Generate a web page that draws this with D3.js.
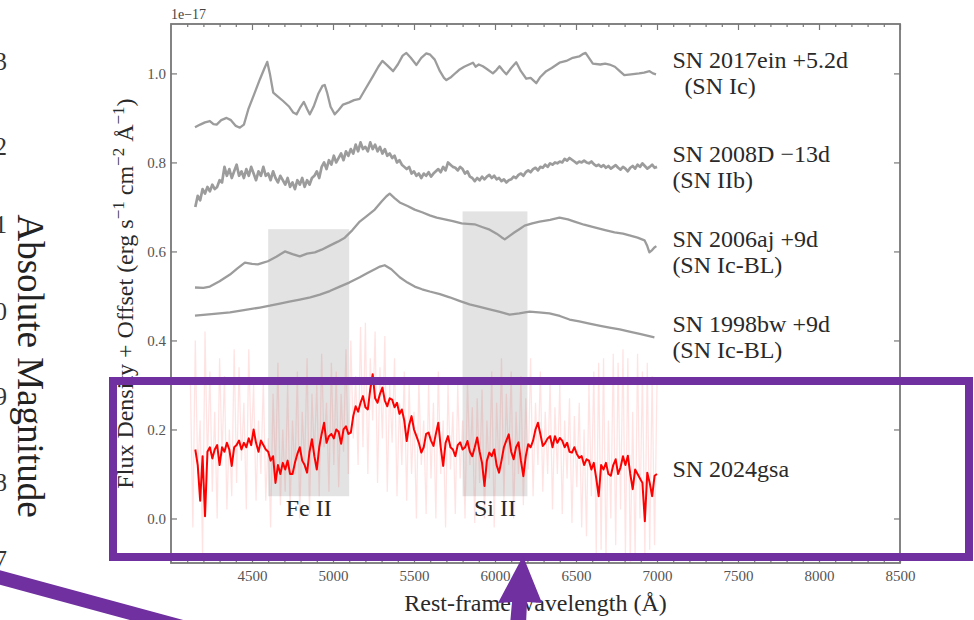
<!DOCTYPE html>
<html>
<head>
<meta charset="utf-8">
<script src="https://cdn.jsdelivr.net/npm/d3@7"></script>
<style>
  body { margin: 0; background: #fff; }
  svg { display: block; }
  text { font-family: "Liberation Serif", "Times New Roman", serif; }
</style>
</head>
<body>
<div id="chart"></div>
<script>
// ---- values (flux in units of 1e-17, offset applied) ----

var xTickValues = [4500, 5000, 5500, 6000, 6500, 7000, 7500, 8000, 8500];
var yTickValues = [0.0, 0.2, 0.4, 0.6, 0.8, 1.0];

var spectrumLabels = ["SN 2017ein +5.2d", "SN 2008D \u221213d", "SN 2006aj +9d", "SN 1998bw +9d", "SN 2024gsa"];
var spectrumTypes = ["(SN Ic)", "(SN IIb)", "(SN Ic-BL)", "(SN Ic-BL)", ""];

var regionNames = ["Fe II", "Si II"];
var regionStart = [4600, 5800];
var regionEnd = [5100, 6200];
var regionBottom = [0.05, 0.05];
var regionTop = [0.65, 0.69];

// SN 2017ein
var ein2017Wave = [4148, 4180, 4210, 4240, 4262, 4282, 4310, 4343, 4370, 4400, 4425, 4450, 4477, 4510, 4549, 4575, 4594, 4610, 4631, 4660,
  4692, 4730, 4755, 4775, 4800, 4820, 4840, 4857, 4880, 4910, 4935, 4949, 4965, 4985, 5011, 5035, 5062, 5100, 5130, 5165,
  5200, 5247, 5280, 5305, 5335, 5371, 5400, 5430, 5453, 5480, 5515, 5545, 5576, 5600, 5628, 5660, 5685, 5700, 5730, 5760,
  5782, 5810, 5840, 5864, 5880, 5900, 5925, 5950, 5987, 6010, 6028, 6050, 6070, 6100, 6131, 6160, 6193, 6220, 6255, 6280,
  6316, 6350, 6398, 6440, 6480, 6520, 6545, 6559, 6580, 6604, 6650, 6680, 6707, 6740, 6770, 6798, 6840, 6890, 6920, 6954,
  6975, 6994];
var ein2017Flux = [0.879, 0.885, 0.890, 0.893, 0.886, 0.885, 0.895, 0.900, 0.895, 0.882, 0.878, 0.885, 0.919, 0.950, 0.987, 1.010, 1.026, 1.000, 0.957, 0.948,
  0.938, 0.925, 0.912, 0.908, 0.925, 0.936, 0.920, 0.908, 0.925, 0.955, 0.972, 0.974, 0.955, 0.925, 0.908, 0.918, 0.930, 0.935, 0.940, 0.943,
  0.965, 0.994, 1.015, 1.028, 1.018, 1.005, 1.020, 1.040, 1.046, 1.035, 1.019, 1.035, 1.045, 1.042, 1.031, 1.005, 0.990, 0.985, 0.992, 1.002,
  1.009, 1.015, 1.020, 1.024, 1.015, 1.020, 1.016, 1.010, 1.000, 1.008, 1.016, 1.006, 0.998, 1.012, 1.025, 1.005, 0.988, 0.990, 0.978, 0.992,
  1.005, 1.012, 1.024, 1.028, 1.035, 1.038, 1.044, 1.046, 1.035, 1.022, 1.020, 1.022, 1.020, 1.015, 1.005, 0.996, 0.998, 1.000, 1.002, 1.005,
  1.000, 0.998];

// SN 2006aj
var sn2006ajWave = [4148, 4200, 4240, 4300, 4364, 4410, 4456, 4500, 4536, 4570, 4598, 4650, 4703, 4750, 4795, 4840, 4888, 4930, 4980, 5030,
  5073, 5120, 5165, 5210, 5258, 5300, 5330, 5350, 5380, 5412, 5460, 5504, 5550, 5597, 5640, 5690, 5740, 5794, 5830, 5874,
  5920, 5967, 6010, 6040, 6060, 6090, 6121, 6150, 6183, 6230, 6275, 6340, 6398, 6450, 6491, 6550, 6614, 6680, 6738, 6790,
  6830, 6880, 6923, 6940, 6953, 6970, 6984, 6996];
var sn2006ajFlux = [0.519, 0.518, 0.521, 0.533, 0.548, 0.562, 0.575, 0.572, 0.571, 0.575, 0.578, 0.588, 0.600, 0.594, 0.589, 0.595, 0.598, 0.604, 0.613, 0.622,
  0.631, 0.648, 0.667, 0.680, 0.694, 0.712, 0.724, 0.730, 0.720, 0.710, 0.702, 0.694, 0.688, 0.681, 0.676, 0.672, 0.668, 0.663, 0.662, 0.661,
  0.655, 0.649, 0.640, 0.632, 0.627, 0.635, 0.643, 0.650, 0.658, 0.663, 0.667, 0.671, 0.676, 0.672, 0.667, 0.660, 0.654, 0.648, 0.643, 0.640,
  0.636, 0.631, 0.625, 0.612, 0.598, 0.603, 0.609, 0.612];

// SN 1998bw
var sn1998bwWave = [4148, 4250, 4364, 4450, 4549, 4610, 4672, 4730, 4795, 4860, 4919, 4980, 5042, 5100, 5165, 5210, 5258, 5290, 5319, 5360,
  5412, 5460, 5504, 5550, 5597, 5660, 5720, 5780, 5843, 5900, 5967, 6030, 6090, 6150, 6213, 6270, 6336, 6400, 6460, 6520,
  6583, 6650, 6707, 6770, 6830, 6900, 6984];
var sn1998bwFlux = [0.456, 0.459, 0.463, 0.468, 0.474, 0.478, 0.483, 0.487, 0.492, 0.497, 0.503, 0.511, 0.521, 0.530, 0.542, 0.551, 0.560, 0.566, 0.569, 0.560,
  0.542, 0.530, 0.521, 0.515, 0.510, 0.504, 0.497, 0.489, 0.481, 0.476, 0.470, 0.464, 0.458, 0.461, 0.465, 0.463, 0.461, 0.455, 0.447, 0.443,
  0.438, 0.433, 0.429, 0.425, 0.420, 0.414, 0.407];

// SN 2008D and SN 2024gsa are sampled every 15 A from 4150 A to 7000 A
var noisyWave = d3.range(4150, 7001, 15);
var sn2008dFlux = [
  0.700, 0.725, 0.715, 0.740, 0.730, 0.745, 0.735, 0.750, 0.740, 0.745,
  0.760, 0.755, 0.790, 0.770, 0.785, 0.765, 0.780, 0.795, 0.770, 0.780,
  0.765, 0.785, 0.770, 0.790, 0.775, 0.760, 0.780, 0.770, 0.790, 0.770,
  0.775, 0.760, 0.780, 0.765, 0.755, 0.770, 0.760, 0.750, 0.765, 0.745,
  0.755, 0.740, 0.760, 0.750, 0.765, 0.745, 0.760, 0.750, 0.765, 0.770,
  0.780, 0.765, 0.790, 0.800, 0.785, 0.805, 0.795, 0.815, 0.800, 0.810,
  0.820, 0.805, 0.825, 0.815, 0.830, 0.820, 0.840, 0.825, 0.845, 0.830,
  0.835, 0.825, 0.845, 0.830, 0.840, 0.825, 0.835, 0.820, 0.830, 0.815,
  0.820, 0.810, 0.815, 0.800, 0.805, 0.795, 0.790, 0.785, 0.790, 0.775,
  0.780, 0.770, 0.775, 0.765, 0.775, 0.770, 0.778, 0.768, 0.775, 0.780,
  0.785, 0.778, 0.790, 0.782, 0.800, 0.795, 0.790, 0.788, 0.782, 0.790,
  0.785, 0.775, 0.780, 0.768, 0.765, 0.758, 0.765, 0.760, 0.768, 0.762,
  0.768, 0.772, 0.765, 0.770, 0.762, 0.765, 0.758, 0.762, 0.755, 0.760,
  0.762, 0.768, 0.765, 0.772, 0.775, 0.770, 0.778, 0.782, 0.778, 0.785,
  0.788, 0.782, 0.790, 0.788, 0.795, 0.790, 0.798, 0.795, 0.800, 0.798,
  0.802, 0.800, 0.808, 0.804, 0.810, 0.806, 0.802, 0.798, 0.802, 0.800,
  0.804, 0.800, 0.798, 0.802, 0.796, 0.792, 0.795, 0.790, 0.794, 0.788,
  0.792, 0.786, 0.790, 0.794, 0.788, 0.784, 0.790, 0.786, 0.780, 0.788,
  0.792, 0.786, 0.795, 0.790, 0.798, 0.792, 0.786, 0.790, 0.795, 0.788,
  0.790];

var sn2024gsaFlux = [
  0.155, 0.120, 0.040, 0.140, 0.005, 0.150, 0.160, 0.135, 0.155, 0.165,
  0.120, 0.160, 0.150, 0.170, 0.155, 0.118, 0.160, 0.165, 0.175, 0.155,
  0.170, 0.160, 0.180, 0.165, 0.200, 0.170, 0.150, 0.175, 0.165, 0.155,
  0.150, 0.130, 0.140, 0.080, 0.120, 0.100, 0.125, 0.110, 0.130, 0.100,
  0.100, 0.125, 0.145, 0.160, 0.130, 0.120, 0.103, 0.150, 0.178, 0.140,
  0.110, 0.160, 0.190, 0.215, 0.170, 0.185, 0.190, 0.180, 0.200, 0.195,
  0.168, 0.200, 0.207, 0.190, 0.193, 0.230, 0.252, 0.240, 0.260, 0.275,
  0.250, 0.245, 0.290, 0.324, 0.270, 0.260, 0.280, 0.294, 0.265, 0.252,
  0.270, 0.267, 0.250, 0.260, 0.235, 0.245, 0.220, 0.174, 0.210, 0.230,
  0.200, 0.185, 0.170, 0.148, 0.160, 0.190, 0.193, 0.175, 0.163, 0.190,
  0.215, 0.160, 0.118, 0.170, 0.185, 0.160, 0.155, 0.140, 0.165, 0.171,
  0.155, 0.160, 0.174, 0.150, 0.140, 0.160, 0.182, 0.150, 0.125, 0.073,
  0.130, 0.148, 0.140, 0.155, 0.120, 0.103, 0.130, 0.160, 0.175, 0.189,
  0.150, 0.133, 0.160, 0.171, 0.130, 0.095, 0.140, 0.167, 0.160, 0.175,
  0.200, 0.215, 0.190, 0.163, 0.170, 0.180, 0.185, 0.160, 0.185, 0.170,
  0.181, 0.175, 0.160, 0.170, 0.150, 0.148, 0.160, 0.145, 0.136, 0.140,
  0.120, 0.133, 0.130, 0.110, 0.125, 0.090, 0.050, 0.120, 0.110, 0.125,
  0.100, 0.096, 0.120, 0.133, 0.100, 0.115, 0.140, 0.120, 0.141, 0.100,
  0.066, 0.110, 0.100, 0.090, 0.080, -0.006, 0.103, 0.080, 0.050, 0.096,
  0.100];

// unbinned SN 2024gsa spectrum (pale trace), every 15 A from 4120 A
var rawWave = d3.range(4120, 7001, 15);
var sn2024gsaRaw = [
  0.30, -0.02, 0.40, 0.10, 0.22, -0.08, 0.42, 0.12, 0.33, 0.06,
  0.24, 0.00, 0.36, 0.14, 0.32, 0.02, 0.20, 0.05, 0.38, 0.08,
  0.34, 0.13, 0.26, 0.02, 0.38, 0.16, 0.30, 0.04, 0.22, 0.10,
  0.31, 0.04, 0.18, -0.02, 0.28, 0.10, 0.35, 0.03, 0.20, 0.06,
  0.30, 0.02, 0.22, 0.10, 0.33, 0.00, 0.24, 0.12, 0.36, 0.01,
  0.28, 0.14, 0.30, 0.05, 0.37, 0.16, 0.26, 0.06, 0.35, 0.12,
  0.33, 0.07, 0.28, 0.15, 0.38, 0.10, 0.40, 0.18, 0.32, 0.12,
  0.43, 0.16, 0.44, 0.10, 0.36, 0.22, 0.42, 0.08, 0.34, 0.18,
  0.41, 0.06, 0.30, 0.17, 0.36, 0.05, 0.26, 0.12, 0.33, 0.04,
  0.30, 0.10, 0.24, 0.00, 0.31, 0.12, 0.22, 0.01, 0.30, 0.09,
  0.26, 0.00, 0.33, 0.10, 0.22, -0.02, 0.30, 0.11, 0.24, 0.01,
  0.30, 0.09, 0.22, 0.00, 0.31, 0.12, 0.25, -0.01, 0.27, 0.08,
  0.29, 0.00, 0.22, 0.09, 0.33, -0.02, 0.26, 0.10, 0.36, 0.04,
  0.28, 0.12, 0.33, 0.00, 0.24, 0.10, 0.32, 0.03, 0.27, 0.11,
  0.36, 0.05, 0.26, 0.12, 0.33, 0.06, 0.24, 0.10, 0.31, 0.02,
  0.25, 0.10, 0.30, 0.01, 0.22, 0.09, 0.27, -0.01, 0.23, 0.07,
  0.26, -0.02, 0.20, -0.04, 0.30, 0.05, 0.33, -0.08, 0.35, -0.07,
  0.36, -0.09, 0.22, 0.00, 0.37, -0.06, 0.35, 0.02, 0.38, -0.08,
  0.36, -0.10, 0.24, -0.09, 0.37, 0.00, 0.33, -0.08, 0.35, -0.07,
  0.32, -0.06, 0.30];

// tick labels of the neighbouring panel that is cut off on the left
var neighbourTicks = ["\u221223", "\u221222", "\u221221", "\u221220", "\u221219", "\u221218", "\u221217"];

// ---- set-up canvas ----
var svgWidth = 974;
var svgHeight = 620;

var margin = {
    top: 24,
    bottom: 57,
    right: 74,
    left: 171
};

var width = svgWidth - margin.left - margin.right;
var height = svgHeight - margin.top - margin.bottom;

var svg = d3.select("#chart")
    .append("svg")
    .attr("width", svgWidth)
    .attr("height", svgHeight);

svg.append("rect")
    .attr("width", svgWidth)
    .attr("height", svgHeight)
    .attr("fill", "#ffffff");

var chartGroup = svg.append("g")
    .attr("transform", `translate(${margin.left}, ${margin.top})`);

chartGroup.append("clipPath")
    .attr("id", "plot-clip")
    .append("rect")
    .attr("width", width)
    .attr("height", height);

var xScale = d3.scaleLinear().domain([4000, 8500]).range([0, width]);
var yScale = d3.scaleLinear().domain([-0.1, 1.111]).range([height, 0]);

var frameColor = "#777777";

// shaded line regions
chartGroup.selectAll(".region")
    .data(regionNames)
    .enter()
    .append("rect")
    .attr("class", "region")
    .attr("x", (d, i) => xScale(regionStart[i]))
    .attr("width", (d, i) => xScale(regionEnd[i]) - xScale(regionStart[i]))
    .attr("y", (d, i) => yScale(regionTop[i]))
    .attr("height", (d, i) => yScale(regionBottom[i]) - yScale(regionTop[i]))
    .attr("fill", "#bdbdbd")
    .attr("opacity", 0.42);

var lineGen = d3.line()
    .x(d => xScale(d[0]))
    .y(d => yScale(d[1]));

function pairs(wave, flux) {
    return wave.map((w, i) => [w, flux[i]]);
}

var plotArea = chartGroup.append("g").attr("clip-path", "url(#plot-clip)");

// pale raw trace of SN 2024gsa
plotArea.append("path")
    .datum(pairs(rawWave, sn2024gsaRaw))
    .attr("d", lineGen)
    .attr("fill", "none")
    .attr("stroke", "#ff0000")
    .attr("stroke-opacity", 0.11)
    .attr("stroke-width", 1.3);

// comparison spectra
var graySpectra = [
    pairs(ein2017Wave, ein2017Flux),
    pairs(noisyWave, sn2008dFlux),
    pairs(sn2006ajWave, sn2006ajFlux),
    pairs(sn1998bwWave, sn1998bwFlux)
];

plotArea.selectAll(".comp")
    .data(graySpectra)
    .enter()
    .append("path")
    .attr("class", "comp")
    .attr("d", lineGen)
    .attr("fill", "none")
    .attr("stroke", "#9c9c9c")
    .attr("stroke-width", (d, i) => i === 1 ? 2.7 : 2.3)
    .attr("stroke-linejoin", "round");

// binned SN 2024gsa
plotArea.append("path")
    .datum(pairs(noisyWave, sn2024gsaFlux))
    .attr("d", lineGen)
    .attr("fill", "none")
    .attr("stroke", "#ff0000")
    .attr("stroke-width", 2)
    .attr("stroke-linejoin", "round");

// ---- axes (ticks point inward on all four sides) ----
var xMinorTicks = d3.range(4100, 8500, 100).filter(v => v % 500 !== 0);

function styleAxis(g) {
    g.select(".domain").remove();
    g.selectAll("line").attr("stroke", frameColor).attr("stroke-width", 1.2);
    g.selectAll("text")
        .attr("fill", "#555555")
        .style("font-family", "'Liberation Serif', serif")
        .style("font-size", "15px");
}

chartGroup.append("g")
    .attr("transform", `translate(0, ${height})`)
    .call(d3.axisBottom(xScale).tickValues(xTickValues).tickSize(-6).tickPadding(7).tickFormat(d3.format("d")))
    .call(styleAxis);

chartGroup.append("g")
    .attr("transform", `translate(0, ${height})`)
    .call(d3.axisBottom(xScale).tickValues(xMinorTicks).tickSize(-3).tickFormat(""))
    .call(styleAxis);

chartGroup.append("g")
    .call(d3.axisTop(xScale).tickValues(xTickValues).tickSize(-6).tickFormat(""))
    .call(styleAxis);

chartGroup.append("g")
    .call(d3.axisTop(xScale).tickValues(xMinorTicks).tickSize(-3).tickFormat(""))
    .call(styleAxis);

chartGroup.append("g")
    .call(d3.axisLeft(yScale).tickValues(yTickValues).tickSize(-6).tickPadding(5).tickFormat(d3.format(".1f")))
    .call(styleAxis);

chartGroup.append("g")
    .attr("transform", `translate(${width}, 0)`)
    .call(d3.axisRight(yScale).tickValues(yTickValues).tickSize(-6).tickFormat(""))
    .call(styleAxis);

chartGroup.append("rect")
    .attr("width", width)
    .attr("height", height)
    .attr("fill", "none")
    .attr("stroke", frameColor)
    .attr("stroke-width", 1.8);

// offset text
chartGroup.append("text")
    .attr("x", 0)
    .attr("y", -5)
    .attr("fill", "#444")
    .style("font-size", "14px")
    .text("1e\u221217");

// region labels
chartGroup.selectAll(".region-label")
    .data(regionNames)
    .enter()
    .append("text")
    .attr("class", "region-label")
    .attr("x", (d, i) => xScale((regionStart[i] + regionEnd[i]) / 2))
    .attr("y", yScale(0) - 2)
    .attr("text-anchor", "middle")
    .attr("fill", "#2a2a2a")
    .style("font-size", "24px")
    .text(d => d);

// spectrum labels (baseline of first line, in flux units)
var labelWave = 7095;
var labelFlux = [1.013, 0.802, 0.609, 0.420, 0.094];

var labelGroups = chartGroup.selectAll(".sn-label")
    .data(spectrumLabels)
    .enter()
    .append("text")
    .attr("class", "sn-label")
    .attr("x", xScale(labelWave))
    .attr("y", (d, i) => yScale(labelFlux[i]))
    .attr("fill", "#2a2a2a")
    .style("font-size", "24px");

labelGroups.append("tspan")
    .attr("x", xScale(labelWave))
    .text(d => d);

labelGroups.append("tspan")
    .attr("x", (d, i) => xScale(labelWave) + (i === 0 ? 12 : 0))
    .attr("dy", 26)
    .text((d, i) => spectrumTypes[i]);

// axis titles
chartGroup.append("text")
    .attr("x", width / 2)
    .attr("y", height + 48)
    .attr("text-anchor", "middle")
    .attr("fill", "#2a2a2a")
    .style("font-size", "24px")
    .text("Rest-frame wavelength (\u00c5)");

var yTitle = chartGroup.append("text")
    .attr("transform", `translate(-38, ${height / 2}) rotate(-90)`)
    .attr("text-anchor", "middle")
    .attr("fill", "#2a2a2a")
    .style("font-size", "24px");

yTitle.append("tspan").text("Flux Density + Offset (erg s");
yTitle.append("tspan").attr("dy", -9).style("font-size", "17px").text("\u22121");
yTitle.append("tspan").attr("dy", 9).text(" cm");
yTitle.append("tspan").attr("dy", -9).style("font-size", "17px").text("\u22122");
yTitle.append("tspan").attr("dy", 9).text(" \u00c5");
yTitle.append("tspan").attr("dy", -9).style("font-size", "17px").text("\u22121");
yTitle.append("tspan").attr("dy", 9).text(")");

// ---- neighbouring panel, cut off at the left edge ----
var neighbourY = [62, 147, 225, 312, 397, 483, 560];

svg.selectAll(".nb-tick")
    .data(neighbourTicks)
    .enter()
    .append("text")
    .attr("class", "nb-tick")
    .attr("x", 7)
    .attr("y", (d, i) => neighbourY[i] + 8)
    .attr("text-anchor", "end")
    .attr("fill", "#333")
    .style("font-size", "25px")
    .text(d => d);

svg.append("text")
    .attr("transform", "translate(18, 366) rotate(90)")
    .attr("text-anchor", "middle")
    .attr("fill", "#222")
    .style("font-size", "37px")
    .text("Absolute Magnitude");

// ---- purple highlight drawn over the figure ----
var purple = "#7030a0";

svg.append("rect")
    .attr("x", 113)
    .attr("y", 381)
    .attr("width", 856)
    .attr("height", 176)
    .attr("fill", "none")
    .attr("stroke", purple)
    .attr("stroke-width", 8);

svg.append("line")
    .attr("x1", -20).attr("y1", 572)
    .attr("x2", 300).attr("y2", 659)
    .attr("stroke", purple)
    .attr("stroke-width", 14);

svg.append("polygon")
    .attr("points", "523,556 542,603 527,602 526,625 510,625 512,602 498,603")
    .attr("fill", purple);
</script>
</body>
</html>
